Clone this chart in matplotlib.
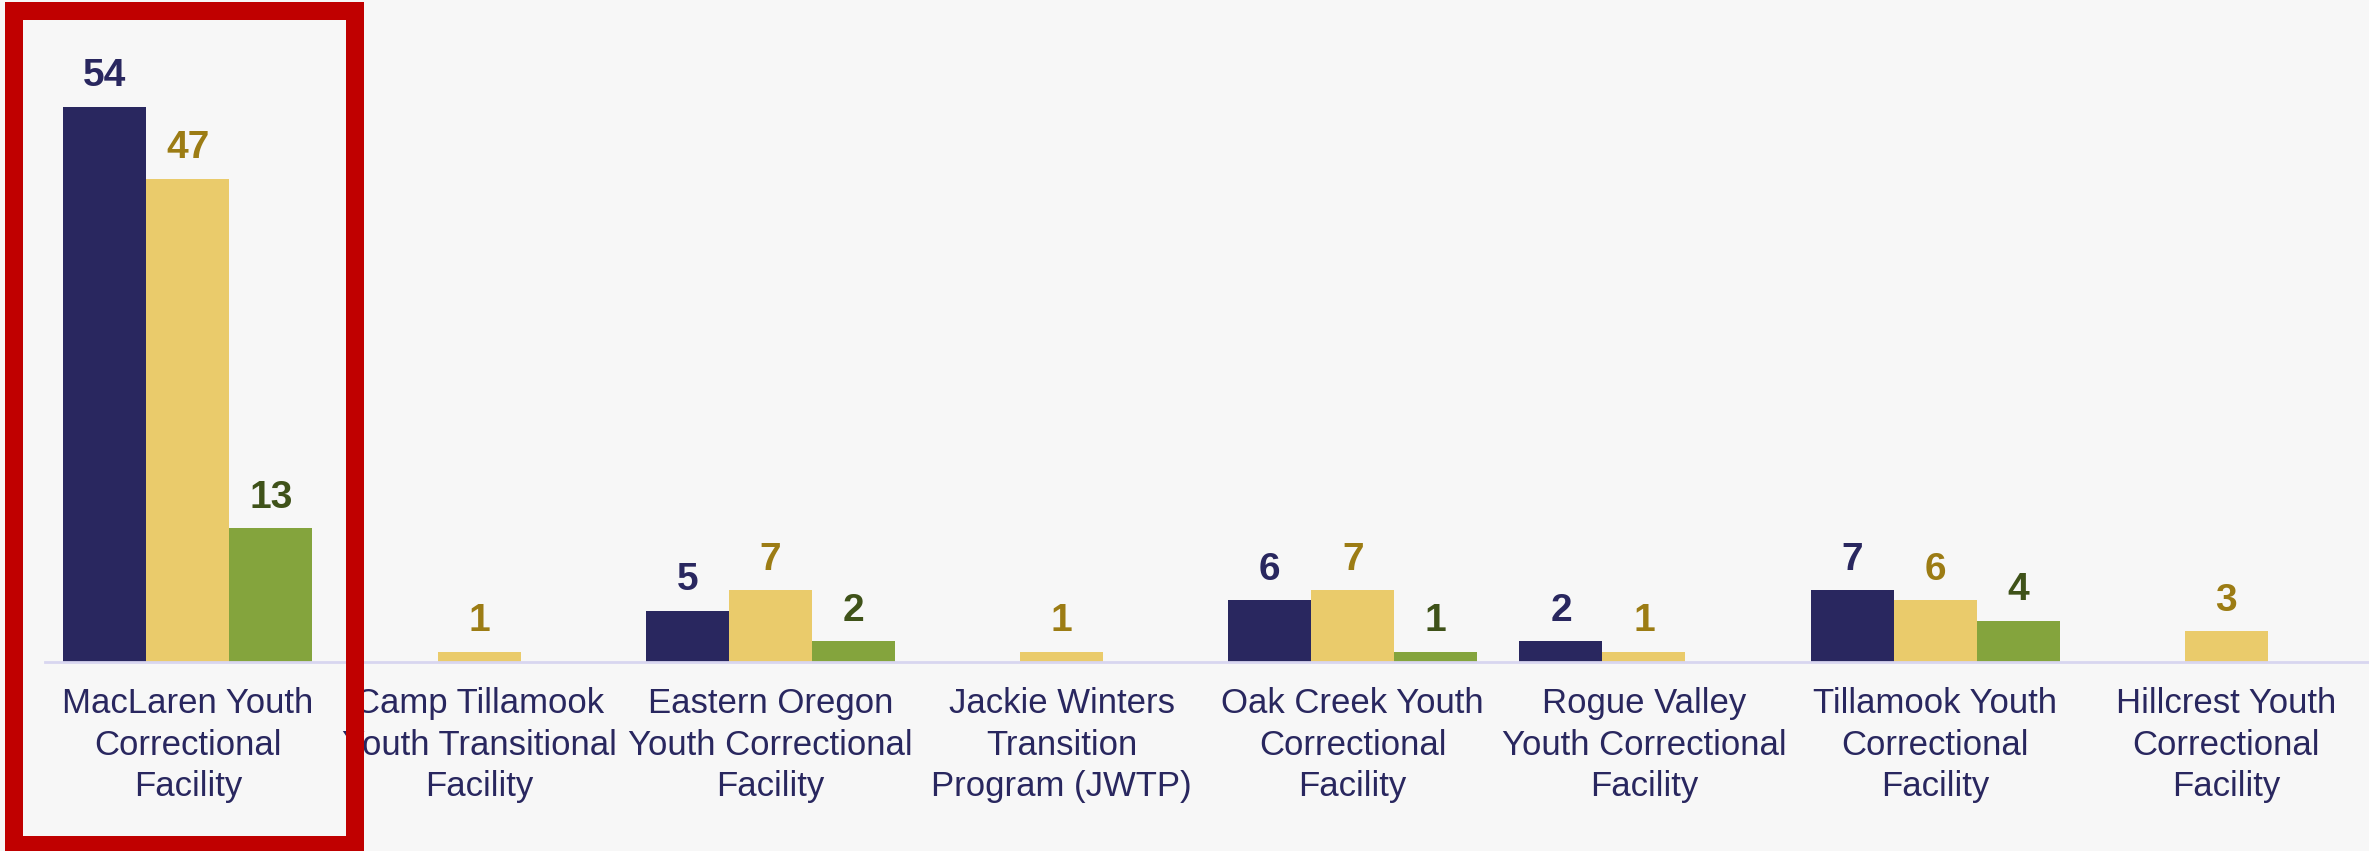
import matplotlib.pyplot as plt
import matplotlib.patches as patches
from matplotlib import font_manager
import numpy as np

facilities = ["MacLaren Youth\nCorrectional\nFacility",
              "Camp Tillamook\nYouth Transitional\nFacility",
              "Eastern Oregon\nYouth Correctional\nFacility",
              "Jackie Winters\nTransition\nProgram (JWTP)",
              "Oak Creek Youth\nCorrectional\nFacility",
              "Rogue Valley\nYouth Correctional\nFacility",
              "Tillamook Youth\nCorrectional\nFacility",
              "Hillcrest Youth\nCorrectional\nFacility"]
series_a = [54, 0, 5, 0, 6, 2, 7, 0]
series_b = [47, 1, 7, 1, 7, 1, 6, 3]
series_c = [13, 0, 2, 0, 1, 0, 4, 0]

bar_colors = ["#29275f", "#eacb6b", "#84a43d"]
text_colors = ["#29275f", "#9c7c14", "#3f5219"]

names = {f.name for f in font_manager.fontManager.ttflist}
wide = "Liberation Sans"
narrow = "Liberation Sans Narrow" if "Liberation Sans Narrow" in names else "Liberation Sans"

W, H = 2369, 851
fig = plt.figure(figsize=(W / 100, H / 100), dpi=100, facecolor="#f7f7f7")
ax = fig.add_axes([45 / W, (H - 662) / H, 1 - 45 / W, 662 / H])
ax.set_facecolor("#f7f7f7")

x = np.arange(len(facilities))
bw = 0.285
for k, vals in enumerate([series_a, series_b, series_c]):
    pos = x + (k - 1) * bw
    for i, (xp, v) in enumerate(zip(pos, vals)):
        if v == 0:
            continue
        ax.bar(xp, v, width=bw, color=bar_colors[k], linewidth=0)
        fam = wide if i == 0 else narrow
        ax.annotate(str(v), (xp, v), xytext=(0, 9), textcoords="offset points",
                    ha="center", va="bottom", fontsize=28, fontweight="bold",
                    color=text_colors[k], family=fam)

ax.set_xlim(-0.491, 7.49)
ax.set_ylim(0, 64.4)
for s in ["top", "right", "left"]:
    ax.spines[s].set_visible(False)
ax.spines["bottom"].set_color("#d8d6f0")
ax.spines["bottom"].set_linewidth(2)
ax.set_yticks([])
ax.set_xticks(x)
ax.set_xticklabels(facilities, fontsize=25, color="#29275f", linespacing=1.33,
                   va="top")
ax.tick_params(axis="x", length=0, pad=18)
for i, lab in enumerate(ax.get_xticklabels()):
    lab.set_family(wide if i == 0 else narrow)

# red highlight box around the first facility
lw = 18
rect = patches.Rectangle((13.5, H - 845), 341, 834, transform=None,
                         fill=False, edgecolor="#c00000", linewidth=lw * 72 / 100,
                         joinstyle="miter")
fig.patches.append(rect)

fig.savefig("out.png", dpi=100, facecolor=fig.get_facecolor())
